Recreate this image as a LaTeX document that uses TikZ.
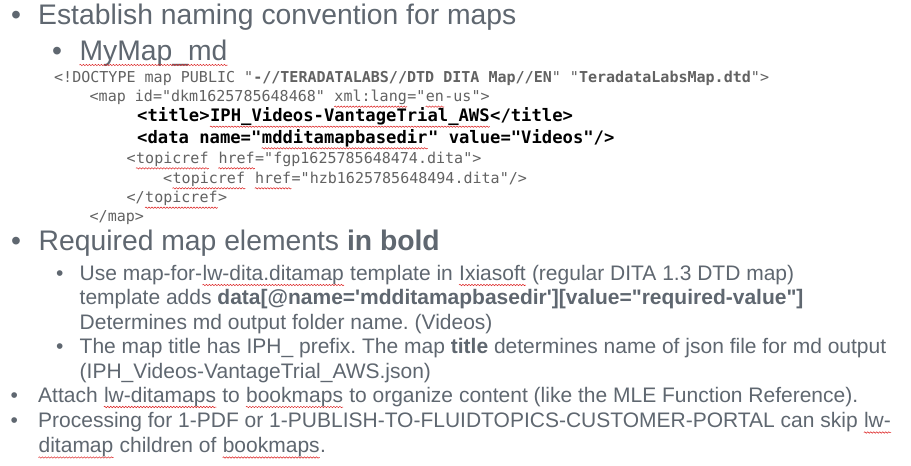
\documentclass[tikz,border=0pt]{standalone}
\usepackage{fontspec}
\setmainfont{Liberation Sans}
\setmonofont{DejaVu Sans Mono}
\usetikzlibrary{decorations.pathmorphing}
\definecolor{slate}{RGB}{95,103,112}
\definecolor{codegray}{RGB}{98,98,98}
\definecolor{spellred}{RGB}{220,30,30}
\frenchspacing
\tikzset{
  big/.style={font=\fontsize{28.3}{30}\selectfont,text=slate},
  small/.style={font=\fontsize{21}{24}\selectfont,text=slate},
  code/.style={font=\ttfamily\fontsize{15.03}{17}\selectfont,text=codegray},
  codebold/.style={font=\ttfamily\bfseries\fontsize{17.2}{19}\selectfont,text=black},
  wavy/.style={spellred,line width=0.5pt,decorate,decoration={snake,amplitude=0.7pt,segment length=3pt}}
}
\newcommand{\squig}[1]{\tikz[baseline=(sq.base)]{\node[inner sep=0pt,anchor=base west] (sq) {#1};\draw[wavy] ([yshift=-5pt]sq.base west) -- ([yshift=-5pt]sq.base east);}}
\begin{document}
\begin{tikzpicture}[x=1pt,y=-1pt,every node/.style={inner sep=0pt,anchor=base west}]
 \fill[white] (0,0) rectangle (911,466);
 \useasboundingbox (0,0) rectangle (911,466);
 \node[big] (b1) at (11,24) {\textbullet};
 \node[big] (t1) at (38,24) {Establish naming convention for maps};
 \node[big] (b2) at (52,60) {\textbullet};
 \node[big] (t2) at (79,60) {\squig{MyMap\_md}};
 \node[code] (c1) at (54,82.7) {<!DOCTYPE map PUBLIC "\textbf{-//TERADATALABS//DTD DITA Map//EN}" "\textbf{TeradataLabsMap.dtd}">};
 \node[code] (c2) at (89.5,101.7) {<map id="dkm1625785648468" \squig{xml:lang}="\squig{en}-us">};
 \node[codebold] (c3) at (137,121.7) {<title>\squig{IPH\_Videos-VantageTrial\_AWS}</title>};
 \node[codebold] (c4) at (137,143.3) {<data name="\squig{mdditamapbasedir}" value="Videos"/>};
 \node[code] (c5) at (126.5,163.3) {<\squig{topicref} \squig{href}="fgp1625785648474.dita">};
 \node[code] (c6) at (163,183.3) {<\squig{topicref} \squig{href}="hzb1625785648494.dita"/>};
 \node[code] (c7) at (126.5,202.7) {</\squig{topicref}>};
 \node[code] (c8) at (89.5,221.7) {</map>};
 \node[big] (b3) at (11,250) {\textbullet};
 \node[big] (t3) at (38.5,250) {Required map elements \textbf{in bold}};
 \node[small] (b4) at (56,280) {\textbullet};
 \node[small] (t4) at (79.5,280) {Use map-for-\squig{lw-dita.ditamap} template in \squig{Ixiasoft} (regular DITA 1.3 DTD map)};
 \node[small] (t5) at (79.5,304.5) {template adds \textbf{data[@name=\textquotesingle mdditamapbasedir\textquotesingle][value=\textquotedbl required-value\textquotedbl]}};
 \node[small] (t6) at (79.5,329) {Determines md output folder name. (Videos)};
 \node[small] (b5) at (56,353.5) {\textbullet};
 \node[small] (t7) at (79.5,353.5) {The map title has IPH\_ prefix. The map \textbf{title} determines name of json file for md output};
 \node[small] (t8) at (79.5,378) {(IPH\_Videos-VantageTrial\_AWS.json)};
 \node[small] (b6) at (10.5,402) {\textbullet};
 \node[small] (t9) at (38,402) {Attach \squig{lw-ditamaps} to \squig{bookmaps} to organize content (like the MLE Function Reference).};
 \node[small] (b7) at (10.5,427.5) {\textbullet};
 \node[small] (t10) at (38,427.5) {Processing for 1-PDF or 1-PUBLISH-TO-FLUIDTOPICS-CUSTOMER-PORTAL can skip \squig{lw-}};
 \node[small] (t11) at (38,452.5) {\squig{ditamap} children of \squig{bookmaps}.};
\end{tikzpicture}
\end{document}
